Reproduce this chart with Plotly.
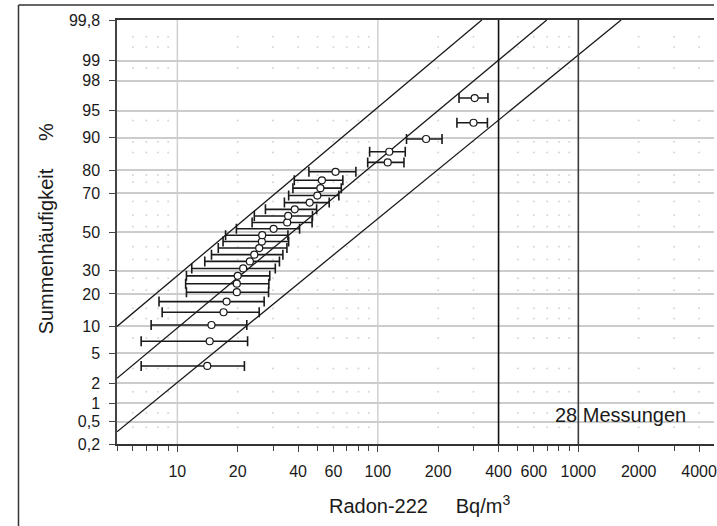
from statistics import NormalDist
import math
import plotly.graph_objects as go

# --- data -------------------------------------------------------------------
# Radon-222 concentration of each measurement (Bq/m³), sorted ascending
radon = [14.1, 14.5, 14.8, 17.0, 17.6, 19.8, 19.8, 20.0, 21.3, 23.0,
         24.2, 25.6, 26.4, 26.5, 30.2, 35.3, 35.7, 38.5, 45.7, 49.9,
         51.7, 52.6, 61.5, 112.0, 114.0, 174.0, 300.0, 304.0]
# measurement uncertainty (Bq/m³)
radon_err = [7.5, 7.9, 7.4, 8.6, 9.5, 8.7, 8.8, 8.9, 9.5, 9.3,
             9.4, 9.6, 9.5, 9.1, 10.5, 11.7, 11.5, 11.0, 11.5, 14.0,
             14.0, 14.3, 16.2, 23.0, 23.0, 35.0, 52.0, 50.0]
# cumulative frequency (plotting position, %)
cum_pct = [3.45, 6.90, 10.34, 13.79, 17.24, 20.69, 24.14, 27.59, 31.03, 34.48,
           37.93, 41.38, 44.83, 48.28, 51.72, 55.17, 58.62, 62.07, 65.52, 68.97,
           72.41, 75.86, 79.31, 82.76, 86.21, 89.66, 93.10, 96.55]

# log-normal reference lines: (concentration, cumulative %) at both ends
line_upper_x = [5, 330]
line_upper_p = [10.0, 99.8]
line_mid_x = [5, 696]
line_mid_p = [2.35, 99.8]
line_lower_x = [5, 1634]
line_lower_p = [0.335, 99.8]

# vertical limit lines (Bq/m³)
limits = [400, 1000]

# axis ticks
y_ticks = [0.2, 0.5, 1, 2, 5, 10, 20, 30, 50, 70, 80, 90, 95, 98, 99, 99.8]
y_ticktext = ["0,2", "0,5", "1", "2", "5", "10", "20", "30", "50", "70",
              "80", "90", "95", "98", "99", "99,8"]
x_ticks = [10, 20, 40, 60, 100, 200, 400, 600, 1000, 2000, 4000]
x_ticktext = ["10", "20", "40", "60", "100", "200", "400", "600", "1000", "2000", "4000"]
x_minor = [5, 6, 7, 8, 9, 10, 20, 30, 40, 50, 60, 70, 80, 90, 100,
           200, 300, 400, 500, 600, 700, 800, 900, 1000, 2000, 3000, 4000]
x_decades = [10, 100]

# faint dotted sub-grid
dot_x = [6, 7, 8, 9, 20, 30, 40, 50, 60, 70, 80, 90, 200, 300,
         500, 600, 700, 800, 900, 2000, 3000, 4000]
dot_p = [99.6, 99.4, 98.7, 93.5, 89, 86, 78, 75, 66, 59, 53, 42,
         35.5, 26.5, 21.5, 15, 12, 7.5, 3.2, 1.5, 0.7, 0.4]

# --- helpers ----------------------------------------------------------------
nd = NormalDist()


def probit(p):
    return nd.inv_cdf(p / 100.0)


FONT = "Liberation Sans, Arial, Helvetica, sans-serif"
INK = "#1a1a1a"

fig = go.Figure()

# dotted sub-grid
gx, gy = [], []
for p in dot_p:
    for x in dot_x:
        gx.append(x)
        gy.append(probit(p))
fig.add_trace(go.Scatter(x=gx, y=gy, mode="markers", hoverinfo="skip",
                         marker=dict(size=2, color="#d6d6d6"), showlegend=False))

# reference lines
for xs, ps in [(line_upper_x, line_upper_p), (line_mid_x, line_mid_p),
               (line_lower_x, line_lower_p)]:
    fig.add_trace(go.Scatter(x=xs, y=[probit(p) for p in ps], mode="lines",
                             line=dict(color=INK, width=1.3),
                             hoverinfo="skip", showlegend=False))

# measurements with uncertainty
fig.add_trace(go.Scatter(
    x=radon, y=[probit(p) for p in cum_pct], mode="markers",
    marker=dict(symbol="circle", size=7, color="white",
                line=dict(color=INK, width=1.2)),
    error_x=dict(type="data", array=radon_err, symmetric=True,
                 color=INK, thickness=1.6, width=5),
    showlegend=False))

shapes = []
for v in x_decades:
    shapes.append(dict(type="line", xref="x", yref="paper", x0=v, x1=v, y0=0, y1=1,
                       line=dict(color="#d0d0d0", width=1.5), layer="below"))
for v, c in zip(limits, ["#111111", "#3a3a3a"]):
    shapes.append(dict(type="line", xref="x", yref="paper", x0=v, x1=v, y0=0, y1=1,
                       line=dict(color=c, width=1.6), layer="above"))

# outer frame (top and left edges)
W, H = 717, 526
ML, MT, MB = 117, 20, 82
PW, PH = W - ML, H - MT - MB


def px(x):
    return (x - ML) / PW


def py(y):
    return (H - MB - y) / PH


shapes.append(dict(type="line", xref="paper", yref="paper",
                   x0=px(18), x1=1.0, y0=py(5), y1=py(5),
                   line=dict(color="#333333", width=1.5)))
shapes.append(dict(type="line", xref="paper", yref="paper",
                   x0=px(18), x1=px(18), y0=py(5), y1=py(H),
                   line=dict(color="#333333", width=1.5)))

nb = "\u00a0"
annotations = [
    dict(text="Summenhäufigkeit" + nb * 5 + "%", textangle=-90,
         xref="paper", yref="paper", x=px(46), y=py(229),
         xanchor="center", yanchor="middle",
         showarrow=False, font=dict(size=20, color=INK, family=FONT)),
    dict(text="Radon-222" + nb * 4 + " Bq/m<sup>3</sup>",
         xref="paper", yref="paper", x=px(421), y=py(504),
         xanchor="center", yanchor="middle",
         showarrow=False, font=dict(size=20, color=INK, family=FONT)),
    dict(text="28 Messungen", xref="paper", yref="paper",
         x=px(623), y=py(415), xanchor="center", yanchor="middle",
         showarrow=False, font=dict(size=20, color=INK, family=FONT)),
]

fig.update_layout(
    width=W, height=H,
    margin=dict(l=ML, r=0, t=MT, b=MB, pad=0),
    paper_bgcolor="white", plot_bgcolor="white",
    font=dict(family=FONT, color=INK, size=16),
    shapes=shapes, annotations=annotations,
    xaxis=dict(
        type="log", range=[math.log10(5), math.log10(5) + PW / 201.5],
        tickmode="array", tickvals=x_ticks, ticktext=x_ticktext,
        ticks="outside", ticklen=6, tickwidth=1.3, tickcolor="#444",
        tickfont=dict(size=16, color=INK), ticklabelstandoff=6,
        ticklabeloverflow="allow",
        minor=dict(tickmode="array", tickvals=x_minor, ticks="outside",
                   ticklen=5, tickwidth=1.2, tickcolor="#444", showgrid=False),
        showgrid=False, zeroline=False,
        showline=True, linecolor="#333", linewidth=1.6, mirror=True,
    ),
    yaxis=dict(
        range=[probit(0.2), probit(99.8)],
        tickmode="array", tickvals=[probit(v) for v in y_ticks], ticktext=y_ticktext,
        ticks="outside", ticklen=6, tickwidth=1.3, tickcolor="#444",
        tickfont=dict(size=16, color=INK), ticklabelstandoff=6,
        showgrid=True, gridcolor="#cccccc", gridwidth=1.5, zeroline=False,
        showline=True, linecolor="#444", linewidth=1.5, mirror=False,
    ),
)

fig.write_html("out.html")
